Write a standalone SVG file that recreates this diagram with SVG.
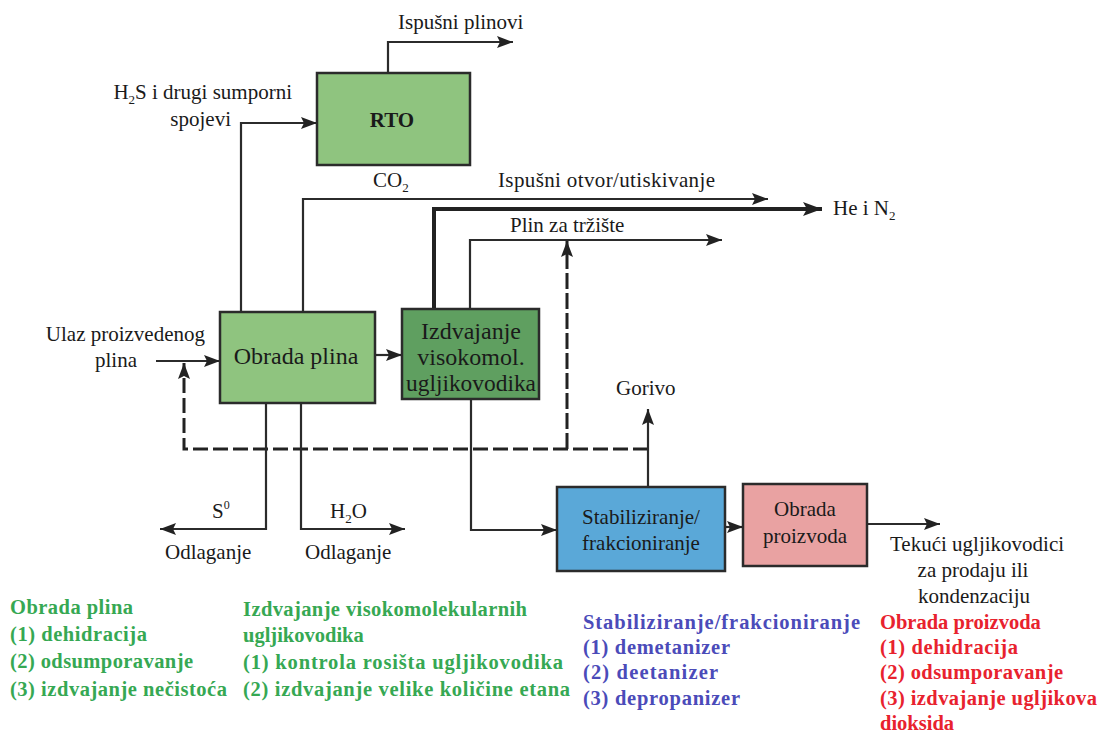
<svg xmlns="http://www.w3.org/2000/svg" width="1105" height="733" viewBox="0 0 1105 733">
<style>
.box{stroke:#2b2b2b;stroke-width:2.5}
.g1{fill:#8fc47f}
.g2{fill:#5f9f60}
.bl{fill:#5aa8d8}
.pk{fill:#e9a2a2}
.ln{fill:none;stroke:#2b2b2b;stroke-width:2.2}
.thick{fill:none;stroke:#222;stroke-width:4}
.dash{fill:none;stroke:#222;stroke-width:3;stroke-dasharray:15 5}
.dashdot{fill:none;stroke:#222;stroke-width:3;stroke-dasharray:16 4}
text{font-family:'Liberation Serif','DejaVu Serif','Noto Serif',serif}
.lbl{font-size:21px;fill:#1a1a1a}
.btxt{font-size:24px;fill:#1a1a1a}
.leg{font-size:20.5px;font-weight:bold}
.gr{fill:#36a853}
.bu{fill:#4b4bb9}
.rd{fill:#e8222e}
</style>
<defs>
<marker id="ah" markerUnits="userSpaceOnUse" markerWidth="17" markerHeight="12" refX="16" refY="6" orient="auto">
<path d="M0,0 L16,6 L0,12 L3,6 z" fill="#222"/>
</marker>
<marker id="ahb" markerUnits="userSpaceOnUse" markerWidth="20" markerHeight="14" refX="19" refY="7" orient="auto">
<path d="M0,0 L19,7 L0,14 L4,7 z" fill="#222"/>
</marker>
</defs>

<g id="connectors">
<path class="ln" d="M388,73 V42 H513" marker-end="url(#ah)"/>
<path class="ln" d="M241,312 V123 H317" marker-end="url(#ah)"/>
<path class="ln" d="M303,312 V199 H768" marker-end="url(#ah)"/>
<path class="thick" d="M434,309 V209 H822" marker-end="url(#ahb)"/>
<path class="ln" d="M470,309 V240 H722" marker-end="url(#ah)"/>
<path class="dashdot" d="M567,449 V241" marker-end="url(#ah)"/>
<path class="ln" d="M156,361 H220" marker-end="url(#ah)"/>
<path class="dash" d="M648,449 H184 V363" marker-end="url(#ah)"/>
<path class="ln" d="M375,355 H402" marker-end="url(#ah)"/>
<path class="ln" d="M266,403 V529 H160" marker-end="url(#ah)"/>
<path class="ln" d="M301,403 V529 H405" marker-end="url(#ah)"/>
<path class="ln" d="M471,399 V530 H557" marker-end="url(#ah)"/>
<path class="ln" d="M648,487 V409" marker-end="url(#ah)"/>
<path class="ln" d="M725,527 H743" marker-end="url(#ah)"/>
<path class="ln" d="M867,524 H940" marker-end="url(#ah)"/>
</g>

<g id="rto">
<rect class="box g1" x="317" y="73" width="153" height="92"/>
<text class="lbl" x="392" y="127" text-anchor="middle" font-weight="bold" font-size="20">RTO</text>
</g>
<g id="obrada-plina">
<rect class="box g1" x="220" y="312" width="155" height="91"/>
<text class="btxt" x="296" y="364" text-anchor="middle">Obrada plina</text>
</g>
<g id="izdvajanje">
<rect class="box g2" x="402" y="309" width="137" height="90"/>
<text class="btxt" x="471" y="339" text-anchor="middle">Izdvajanje</text>
<text class="btxt" x="471" y="365" text-anchor="middle">visokomol.</text>
<text class="btxt" x="471" y="391" text-anchor="middle" textLength="130" lengthAdjust="spacingAndGlyphs">ugljikovodika</text>
</g>
<g id="stabiliziranje">
<rect class="box bl" x="557" y="487" width="168" height="84"/>
<text class="lbl" x="641" y="524" text-anchor="middle">Stabiliziranje/</text>
<text class="lbl" x="641" y="550" text-anchor="middle">frakcioniranje</text>
</g>
<g id="obrada-proizvoda">
<rect class="box pk" x="743" y="484" width="124" height="82"/>
<text class="lbl" x="805" y="516" text-anchor="middle">Obrada</text>
<text class="lbl" x="805" y="543" text-anchor="middle">proizvoda</text>
</g>

<g id="labels">
<text class="lbl" x="398" y="29">Ispušni plinovi</text>
<text class="lbl" x="292" y="99" text-anchor="end">H<tspan font-size="13" dy="5">2</tspan><tspan dy="-5">S i drugi sumporni</tspan></text>
<text class="lbl" x="231" y="126" text-anchor="end">spojevi</text>
<text class="lbl" x="373" y="187">CO<tspan font-size="13" dy="5">2</tspan></text>
<text class="lbl" x="498" y="187" textLength="217">Ispušni otvor/utiskivanje</text>
<text class="lbl" x="833" y="215">He i N<tspan font-size="13" dy="5">2</tspan></text>
<text class="lbl" x="510" y="232">Plin za tržište</text>
<text class="lbl" x="205" y="341" text-anchor="end">Ulaz proizvedenog</text>
<text class="lbl" x="116" y="367" text-anchor="middle">plina</text>
<text class="lbl" x="616" y="395">Gorivo</text>
<text class="lbl" x="212" y="518">S<tspan font-size="12" dy="-9">0</tspan></text>
<text class="lbl" x="330" y="518">H<tspan font-size="13" dy="5">2</tspan><tspan dy="-5">O</tspan></text>
<text class="lbl" x="165" y="559">Odlaganje</text>
<text class="lbl" x="305" y="559">Odlaganje</text>
<text class="lbl" x="977" y="551" text-anchor="middle">Tekući ugljikovodici</text>
<text class="lbl" x="973" y="577" text-anchor="middle">za prodaju ili</text>
<text class="lbl" x="974" y="603" text-anchor="middle">kondenzaciju</text>
</g>

<g id="legend-obrada-plina" class="leg gr">
<text x="10" y="614" textLength="123">Obrada plina</text>
<text x="10" y="641" textLength="137">(1) dehidracija</text>
<text x="10" y="668" textLength="183">(2) odsumporavanje</text>
<text x="10" y="696" textLength="217">(3) izdvajanje nečistoća</text>
</g>
<g id="legend-izdvajanje" class="leg gr">
<text x="243" y="616" textLength="284">Izdvajanje visokomolekularnih</text>
<text x="243" y="642">ugljikovodika</text>
<text x="243" y="669" textLength="320">(1) kontrola rosišta ugljikovodika</text>
<text x="243" y="696" textLength="327">(2) izdvajanje velike količine etana</text>
</g>
<g id="legend-stabiliziranje" class="leg bu">
<text x="583" y="629" textLength="277">Stabiliziranje/frakcioniranje</text>
<text x="583" y="654" textLength="147">(1) demetanizer</text>
<text x="583" y="679" textLength="135">(2) deetanizer</text>
<text x="583" y="705" textLength="157">(3) depropanizer</text>
</g>
<g id="legend-obrada-proizvoda" class="leg rd">
<text x="880" y="629">Obrada proizvoda</text>
<text x="880" y="654" textLength="138">(1) dehidracija</text>
<text x="880" y="679" textLength="183">(2) odsumporavanje</text>
<text x="880" y="705" textLength="217">(3) izdvajanje ugljikova</text>
<text x="880" y="730">dioksida</text>
</g>
</svg>
